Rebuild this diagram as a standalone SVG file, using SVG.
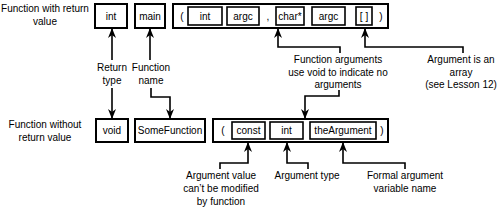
<svg xmlns="http://www.w3.org/2000/svg" width="500" height="207" viewBox="0 0 500 207">
<style>
text{font-family:"Liberation Sans",Arial,sans-serif;font-size:10px;fill:#000;text-anchor:middle}
.box{fill:#fff;stroke:#000;stroke-width:2}
.in{fill:#fff;stroke:#000;stroke-width:1.6}
.c{fill:none;stroke:#000;stroke-width:1.6}
</style>
<defs>
<marker id="ah" viewBox="0 0 10 8" refX="9" refY="4" markerWidth="10" markerHeight="8" markerUnits="userSpaceOnUse" orient="auto">
<path d="M0,0 L10,4 L0,8 L3,4 z" fill="#000"/>
</marker>
</defs>
<g id="label-with"><text x="45" y="12">Function with return</text><text x="45" y="25">value</text></g>
<g id="label-without"><text x="45" y="128">Function without</text><text x="45" y="141">return value</text></g>
<g id="n-int"><rect class="box" x="95" y="4" width="32" height="24"/><text x="111" y="20">int</text></g>
<g id="n-main"><rect class="box" x="135" y="4" width="30" height="24"/><text x="150" y="20">main</text></g>
<g id="n-args">
<rect class="box" x="173" y="4" width="215" height="24"/>
<text x="182" y="20">(</text>
<rect class="in" x="188" y="7" width="34" height="18"/><text x="205" y="20">int</text>
<rect class="in" x="227" y="7" width="32" height="18"/><text x="243" y="20">argc</text>
<text x="268" y="20">,</text>
<rect class="in" x="276" y="7" width="28" height="18"/><text x="290" y="20">char*</text>
<rect class="in" x="312" y="7" width="33" height="18"/><text x="328.5" y="20">argc</text>
<rect class="in" x="356" y="7" width="16" height="18"/><text x="364" y="20">[ ]</text>
<text x="381" y="20">)</text>
</g>
<g id="n-void"><rect class="box" x="96" y="119" width="32" height="23"/><text x="112" y="134">void</text></g>
<g id="n-somefunction"><rect class="box" x="135" y="119" width="70" height="23"/><text x="170" y="134">SomeFunction</text></g>
<g id="n-args2">
<rect class="box" x="213" y="119" width="175" height="23"/>
<text x="223" y="134">(</text>
<rect class="in" x="232" y="122" width="33" height="17"/><text x="248.5" y="134">const</text>
<rect class="in" x="270" y="122" width="33" height="17"/><text x="286.5" y="134">int</text>
<rect class="in" x="310" y="122" width="66" height="17"/><text x="343" y="134">theArgument</text>
<text x="382" y="134">)</text>
</g>
<g id="l-return"><text x="112" y="71">Return</text><text x="112" y="84">type</text></g>
<g id="l-fname"><text x="151" y="71">Function</text><text x="151" y="84">name</text></g>
<g id="l-fargs"><text x="338" y="63">Function arguments</text><text x="338" y="76">use void to indicate no</text><text x="338" y="88">arguments</text></g>
<g id="l-array"><text x="461" y="63">Argument is an</text><text x="461" y="76">array</text><text x="461" y="88">(see Lesson 12)</text></g>
<g id="l-const"><text x="221" y="179">Argument value</text><text x="221" y="192">can’t be modified</text><text x="221" y="205">by function</text></g>
<g id="l-type"><text x="307" y="179">Argument type</text></g>
<g id="l-formal"><text x="405" y="179">Formal argument</text><text x="405" y="192">variable name</text></g>
<g id="connectors" class="c">
<path class="c" d="M112,60 V29" marker-end="url(#ah)"/>
<path class="c" d="M112,88 V118" marker-end="url(#ah)"/>
<path class="c" d="M150,60 V29" marker-end="url(#ah)"/>
<path class="c" d="M151,88 V97 H170 V118" marker-end="url(#ah)"/>
<path class="c" d="M340,53 V47 H278 V29" marker-end="url(#ah)"/>
<path class="c" d="M463,53 V47 H365 V29" marker-end="url(#ah)"/>
<path class="c" d="M339,90 V96 H305 V118" marker-end="url(#ah)"/>
<path class="c" d="M220,169 V163 H248 V143" marker-end="url(#ah)"/>
<path class="c" d="M308,169 V163 H287 V143" marker-end="url(#ah)"/>
<path class="c" d="M405,169 V163 H343 V143" marker-end="url(#ah)"/>
</g>
</svg>
